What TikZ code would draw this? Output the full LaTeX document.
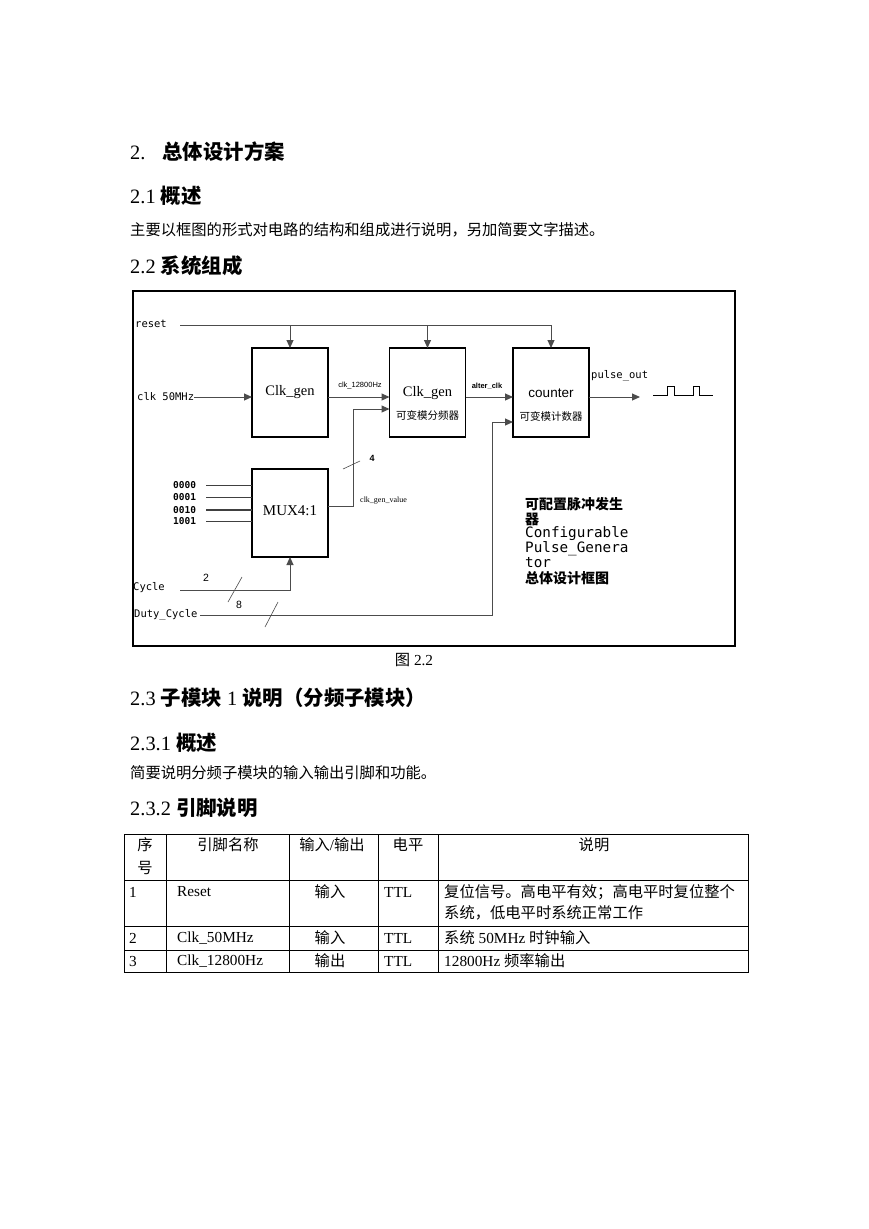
\documentclass[tikz,border=0pt]{standalone}
\usepackage{fontspec}
\setmainfont{Liberation Serif}
\newfontfamily\cjk{Noto Sans CJK SC}
\newfontfamily\dmono{DejaVu Sans Mono}
\newfontfamily\lsans{Liberation Sans}
\usetikzlibrary{arrows.meta}
\tikzset{
  hd/.style={anchor=west, inner sep=0pt, font=\fontsize{20.4}{24}\selectfont},
  body/.style={anchor=west, inner sep=0pt, font=\fontsize{15.3}{18}\selectfont},
  bodyc/.style={inner sep=0pt, font=\fontsize{15.3}{18}\selectfont},
  blk/.style={draw, line width=1.1pt, minimum width=76pt, minimum height=89pt, inner sep=0pt, outer sep=0pt},
  wire/.style={line width=1pt, draw=black!70},
  arr/.style={wire, -{Triangle[length=8pt,width=7pt]}},
  mono/.style={inner sep=0pt, font=\dmono\fontsize{10.5}{12}\selectfont},
  digit/.style={anchor=west, inner sep=0pt, font=\dmono\bfseries\fontsize{9.5}{11}\selectfont},
  tinys/.style={inner sep=0pt, font=\lsans\fontsize{7.5}{9}\selectfont},
  tinyb/.style={inner sep=0pt, font=\lsans\bfseries\fontsize{7.5}{9}\selectfont},
  tinyr/.style={anchor=west, inner sep=0pt, font=\fontsize{8}{9}\selectfont},
  boxt/.style={inner sep=0pt, font=\fontsize{14.5}{16}\selectfont},
  zhs/.style={inner sep=0pt, font=\cjk\fontsize{10.5}{12}\selectfont},
  numl/.style={inner sep=0pt, font=\lsans\fontsize{10.5}{12}\selectfont},
  blockt/.style={anchor=west, inner sep=0pt, font=\dmono\fontsize{14.3}{16}\selectfont},
  blockz/.style={anchor=west, inner sep=0pt, font=\cjk\bfseries\fontsize{14}{15}\selectfont},
  tab/.style={line width=0.8pt},
}
\begin{document}
\begin{tikzpicture}[x=1pt,y=-1pt]
\fill[white] (0,0) rectangle (869,1229);
\useasboundingbox (0,0) rectangle (869,1229);

% headings and text
\node[hd] (h2) at (130,152) {2.\hspace{17pt}{\cjk\bfseries 总体设计方案}};
\node[hd] (h21) at (130,196) {2.1 {\cjk\bfseries 概述}};
\node[body] (t21) at (130,230) {\cjk 主要以框图的形式对电路的结构和组成进行说明，另加简要文字描述。};
\node[hd] (h22) at (130,266) {2.2 {\cjk\bfseries 系统组成}};

% frame
\node[draw, line width=1.8pt, minimum width=602pt, minimum height=355pt, inner sep=0pt] (frame) at (434,468.5) {};

% blocks
\node[blk] (g1) at (290,392.5) {};
\node[blk] (g2) at (427.5,392.5) {};
\node[blk] (cnt) at (551,392.5) {};
\node[blk, minimum height=88pt] (mux) at (290,513) {};

\node[boxt] (g1t) at (290,392) {Clk\_gen};
\node[boxt] (g2t) at (427.5,393) {Clk\_gen};
\node[zhs] (g2z) at (427.5,415) {可变模分频器};
\node[inner sep=0pt, font=\lsans\fontsize{13.5}{15}\selectfont] (cntt) at (551,393) {counter};
\node[zhs] (cntz) at (551,416) {可变模计数器};
\node[inner sep=0pt, font=\fontsize{15}{17}\selectfont] (muxt) at (290,511) {MUX4:1};

% reset
\node[mono, anchor=west] (rst) at (135,324) {reset};
\coordinate (r0) at (180,325);
\draw[arr] (r0) -| (cnt.north);
\draw[arr] (r0 -| g1.north) -- (g1.north);
\draw[arr] (r0 -| g2.north) -- (g2.north);

% clock chain
\node[mono, anchor=west] (clk) at (137,397) {clk 50MHz};
\draw[arr] (clk.east) -- (clk.east -| g1.west);
\draw[arr] (clk.east -| g1.east) -- (clk.east -| g2.west);
\node[tinys] (l128) at (360,386) {clk\_12800Hz};
\draw[arr] (clk.east -| g2.east) -- (clk.east -| cnt.west);
\node[tinyb] (lalt) at (487,386) {alter\_clk};
\coordinate (po) at (640,397);
\draw[arr] (clk.east -| cnt.east) -- (po);
\node[mono, anchor=west] (lpo) at (591,376) {pulse\_out};

% waveform
\draw[line width=0.9pt] (653,395) -- (667,395) -- (667,386) -- (674,386) -- (674,395) -- (693,395) -- (693,386) -- (699,386) -- (699,395) -- (713,395);

% mux inputs
\foreach \v/\y/\w in {0000/485/0.7pt, 0001/497/0.7pt, 0010/510/2pt, 1001/521/0.7pt}{
  \node[digit] (in\v) at (173,\y) {\v};
  \coordinate (s\v) at (206,\y);
  \draw[draw=black!75, line width=\w] (s\v) -- (s\v -| mux.west);
}

% mux output
\coordinate (m1) at (353,506);
\coordinate (m2) at (353,409);
\draw[arr] (m1 -| mux.east) -- (m1) -- (m2) -- (m2 -| g2.west);
\coordinate (sl4a) at (343,469);
\coordinate (sl4b) at (360,461);
\draw[wire, line width=0.6pt] (sl4a) -- (sl4b);
\node[inner sep=0pt, font=\lsans\bfseries\fontsize{9}{10}\selectfont] (n4) at (372,458) {4};
\node[tinyr] (lcv) at (360,501) {clk\_gen\_value};

% cycle
\node[mono, anchor=west] (cyc) at (133,588) {Cycle};
\coordinate (c0) at (180,590);
\draw[arr] (c0) -| (mux.south);
\coordinate (sl2a) at (228,602);
\coordinate (sl2b) at (242,577);
\draw[wire, line width=0.6pt] (sl2a) -- (sl2b);
\node[numl] (n2) at (206,578) {2};

% duty cycle
\node[mono, anchor=west] (duty) at (134,615) {Duty\_Cycle};
\coordinate (d0) at (200,615);
\coordinate (d1) at (492,615);
\coordinate (d2) at (492,422);
\draw[arr] (d0) -- (d1) -- (d2) -- (d2 -| cnt.west);
\coordinate (sl8a) at (265,627);
\coordinate (sl8b) at (278,602);
\draw[wire, line width=0.6pt] (sl8a) -- (sl8b);
\node[numl] (n8) at (239,605) {8};

% text block
\node[blockz] (b1) at (525,504) {可配置脉冲发生};
\node[blockz] (b2) at (525,519) {器};
\node[blockt] (b3) at (525,534) {Configurable};
\node[blockt] (b4) at (525,549) {Pulse\_Genera};
\node[blockt] (b5) at (525,563) {tor};
\node[blockz] (b6) at (525,578) {总体设计框图};

% caption and following
\node[bodyc] (cap) at (414,660) {{\cjk 图} 2.2};
\node[hd] (h23) at (130,698) {2.3 {\cjk\bfseries 子模块} 1 {\cjk\bfseries 说明（分频子模块）}};
\node[hd] (h231) at (130,743) {2.3.1 {\cjk\bfseries 概述}};
\node[body] (t231) at (130,773) {\cjk 简要说明分频子模块的输入输出引脚和功能。};
\node[hd] (h232) at (130,808) {2.3.2 {\cjk\bfseries 引脚说明}};

% table
\draw[tab] (124,834) rectangle (748,972);
\draw[tab] (124,880) -- (748,880);
\draw[tab] (124,926) -- (748,926);
\draw[tab] (124,950) -- (748,950);
\foreach \cx in {166,289,378,438}{ \draw[tab] (\cx,834) -- (\cx,972); }

\node[bodyc] (th1a) at (145,845) {\cjk 序};
\node[bodyc] (th1b) at (145,868) {\cjk 号};
\node[bodyc] (th2) at (228,845) {\cjk 引脚名称};
\node[bodyc] (th3) at (332,845) {{\cjk 输入}/{\cjk 输出}};
\node[bodyc] (th4) at (408,845) {\cjk 电平};
\node[bodyc] (th5) at (594,845) {\cjk 说明};

\node[body] (r1a) at (129,892) {1};
\node[body] (r1b) at (177,892) {Reset};
\node[bodyc] (r1c) at (330,892) {\cjk 输入};
\node[body] (r1d) at (384,892) {TTL};
\node[body] (r1e) at (444,892) {\cjk 复位信号。高电平有效；高电平时复位整个};
\node[body] (r1f) at (444,913) {\cjk 系统，低电平时系统正常工作};

\node[body] (r2a) at (129,938) {2};
\node[body] (r2b) at (177,938) {Clk\_50MHz};
\node[bodyc] (r2c) at (330,938) {\cjk 输入};
\node[body] (r2d) at (384,938) {TTL};
\node[body] (r2e) at (444,938) {{\cjk 系统} 50MHz {\cjk 时钟输入}};

\node[body] (r3a) at (129,961) {3};
\node[body] (r3b) at (177,961) {Clk\_12800Hz};
\node[bodyc] (r3c) at (330,961) {\cjk 输出};
\node[body] (r3d) at (384,961) {TTL};
\node[body] (r3e) at (444,961) {12800Hz {\cjk 频率输出}};
\end{tikzpicture}
\end{document}
